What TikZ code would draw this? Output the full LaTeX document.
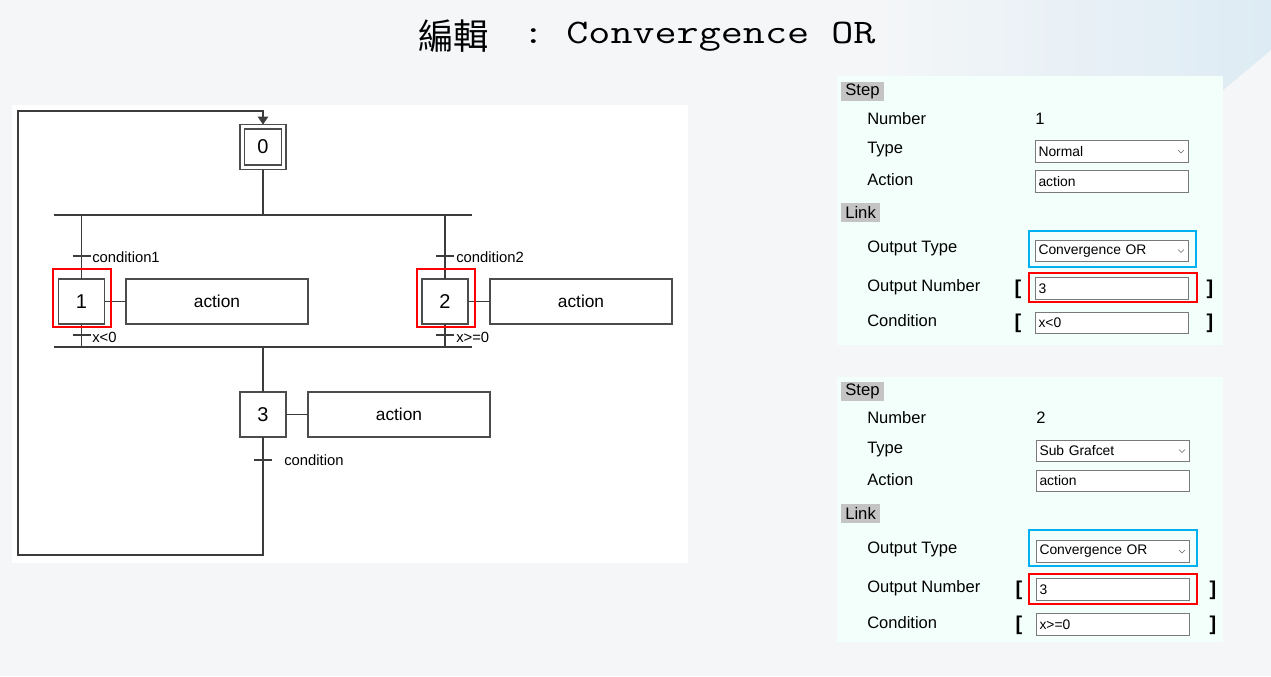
\documentclass[tikz,border=0pt]{standalone}
\usepackage{fontspec}
\setmainfont{Liberation Sans}
\newfontfamily\cjk{Noto Sans CJK TC}
\usepackage{xcolor}
\usetikzlibrary{arrows.meta}
\definecolor{pagebg}{HTML}{F4F6F8}
\definecolor{topblue}{HTML}{DDEBF4}
\definecolor{panelbg}{HTML}{F3FFFA}
\definecolor{hdrgray}{HTML}{C4C4C4}
\definecolor{linegray}{HTML}{3C3C3C}
\definecolor{fieldgray}{HTML}{7A7A7A}
\definecolor{selblue}{HTML}{00B0F0}
\tikzset{
    % Grafcet styles
    stepbox/.style={draw=black!70, line width=1.1pt, fill=white, minimum width=34.5pt, minimum height=33.75pt, inner sep=0pt, outer sep=0pt, font=\fontsize{15}{18}\selectfont},
    actbox/.style={draw=black!70, line width=0.9pt, fill=white, minimum width=136.5pt, minimum height=33.75pt, inner sep=0pt, outer sep=0pt, font=\fontsize{13}{16}\selectfont},
    link/.style={draw=linegray, line width=0.8pt},
    tick/.style={draw=linegray, line width=0.8pt},
    cond/.style={anchor=west, inner sep=0pt, font=\fontsize{11.1}{13}\selectfont},
    hilite/.style={draw=red, line width=2.2pt},
    % Form styles
    header/.style={anchor=west, fill=hdrgray, minimum height=14.25pt, inner xsep=3pt, inner ysep=0pt, font=\fontsize{12.5}{15}\selectfont},
    lbl/.style={anchor=west, inner sep=0pt, font=\fontsize{12.4}{15}\selectfont},
    field/.style={anchor=west, draw=fieldgray, line width=0.75pt, fill=white, minimum height=16pt, text width=110.25pt, align=left, inner xsep=2.25pt, inner ysep=0pt, font=\fontsize{10.4}{12}\selectfont},
    brk/.style={inner sep=0pt, font=\fontsize{15}{18}\selectfont\bfseries},
    chev/.style={draw=black!60, line width=0.5pt},
    selbox/.style={draw=selblue, line width=2.2pt}
}

\begin{document}
\begin{tikzpicture}[x=0.75pt, y=-0.75pt]
    % Page background
    \fill[pagebg] (0,0) rectangle (1271,676);
    \useasboundingbox (0,0) rectangle (1271,676);
    \shade[left color=pagebg, right color=topblue] (880,0) -- (1271,0) -- (1271,50) -- (1223,90) -- (880,90) -- cycle;

    % Title
    \node[anchor=base west, inner sep=0pt] (title) at (418,43) {\raisebox{-4.5pt}{\cjk\fontsize{26.5}{30}\selectfont 編輯}\hspace{25pt}\scalebox{1.246}[1]{\ttfamily\fontsize{25.8}{30}\selectfont :\ Convergence\ OR}};

    % Grafcet panel
    \fill[white] (12,105) rectangle (688,563);

    % Initial step
    \node[stepbox] (s0) at (263,147) {};
    \node[draw=black!70, line width=1.1pt, minimum width=27.75pt, minimum height=27pt, inner sep=0pt, font=\fontsize{15}{18}\selectfont] (s0in) at (263,147) {0};

    % Divergence and convergence bars
    \coordinate (divl) at (54,215);
    \coordinate (divr) at (472,215);
    \coordinate (convl) at (54,347);
    \coordinate (convr) at (472,347);
    \draw[link] (divl) -- (divr);
    \draw[link] (convl) -- (convr);
    \draw[link] (s0) -- (s0 |- divl);

    % Branch 1
    \node[stepbox] (s1) at (81.5,301.5) {1};
    \node[actbox] (a1) at (217,301.5) {action};
    \draw[link] (s1) -- (a1);
    \draw[link] (s1) -- (s1 |- divl);
    \draw[link] (s1) -- (s1 |- convl);
    \coordinate (t1) at (81.5,256);
    \draw[tick] (t1) ++(-9,0) -- ++(18,0);
    \node[cond] (c1) at (92,257) {condition1};
    \coordinate (t1b) at (81.5,335);
    \draw[tick] (t1b) ++(-9,0) -- ++(18,0);
    \node[cond] (c1b) at (92,337) {x<0};
    \draw[hilite] (53,269) rectangle (111,327);

    % Branch 2
    \node[stepbox] (s2) at (445,301.5) {2};
    \node[actbox] (a2) at (581,301.5) {action};
    \draw[link] (s2) -- (a2);
    \draw[link] (s2) -- (s2 |- divl);
    \draw[link] (s2) -- (s2 |- convl);
    \coordinate (t2) at (445,256);
    \draw[tick] (t2) ++(-9,0) -- ++(18,0);
    \node[cond] (c2) at (456,257) {condition2};
    \coordinate (t2b) at (445,335);
    \draw[tick] (t2b) ++(-9,0) -- ++(18,0);
    \node[cond] (c2b) at (456,337) {x>=0};
    \draw[hilite] (417,269) rectangle (475,327);

    % Step 3 and loop back
    \node[stepbox] (s3) at (263,414.5) {3};
    \node[actbox] (a3) at (399,414.5) {action};
    \draw[link] (s3) -- (a3);
    \draw[link] (s3) -- (s3 |- convl);
    \coordinate (t3) at (263,460);
    \draw[tick] (t3) ++(-9,0) -- ++(18,0);
    \node[cond] (c3) at (284,460) {condition};
    \coordinate (loopbl) at (18,555);
    \coordinate (looptl) at (18,111);
    \draw[link, -{Triangle[width=8pt,length=6pt]}] (s3) -- (s3 |- loopbl) -- (loopbl) -- (looptl) -| (s0.north);

    % Form for step 1
    \fill[panelbg] (837,76) rectangle (1223,345);
    \node[header] (stepA) at (841,91.5) {Step};
    \node[lbl] (numA) at (867,119) {Number};
    \node[lbl] (numvalA) at (1035,119) {1};
    \node[lbl] (typeA) at (867,150) {Type};
    \node[field] (typefA) at (1035,151.5) {Normal};
    \draw[chev] (typefA.east) ++(-11,-1.5) -- ++(3,3) -- ++(3,-3);
    \node[lbl] (actA) at (867,180) {Action};
    \node[field] (actfA) at (1035,181.5) {action};
    \node[header] (linkA) at (841,212.5) {Link};
    \node[lbl] (otA) at (867,248) {Output Type};
    \node[field] (otfA) at (1035,251) {Convergence OR};
    \draw[chev] (otfA.east) ++(-11,-1.5) -- ++(3,3) -- ++(3,-3);
    \draw[selbox] (1029,231) rectangle (1196,267);
    \node[lbl] (onA) at (867,287) {Output Number};
    \node[brk] (onlA) at (1018,289) {[};
    \node[field] (onfA) at (1035,288.5) {3};
    \node[brk] (onrA) at (1210,289) {]};
    \draw[hilite] (1029,273) rectangle (1197,302);
    \node[lbl] (condA) at (867,321) {Condition};
    \node[brk] (cdlA) at (1018,323) {[};
    \node[field] (cdfA) at (1035,323) {x<0};
    \node[brk] (cdrA) at (1210,323) {]};

    % Form for step 2
    \fill[panelbg] (837,377) rectangle (1223,642);
    \node[header] (stepB) at (841,391) {Step};
    \node[lbl] (numB) at (867,418) {Number};
    \node[lbl] (numvalB) at (1036,418) {2};
    \node[lbl] (typeB) at (867,450) {Type};
    \node[field] (typefB) at (1036,451) {Sub Grafcet};
    \draw[chev] (typefB.east) ++(-11,-1.5) -- ++(3,3) -- ++(3,-3);
    \node[lbl] (actB) at (867,480) {Action};
    \node[field] (actfB) at (1036,481) {action};
    \node[header] (linkB) at (841,513) {Link};
    \node[lbl] (otB) at (867,549) {Output Type};
    \node[field] (otfB) at (1036,551.5) {Convergence OR};
    \draw[chev] (otfB.east) ++(-11,-1.5) -- ++(3,3) -- ++(3,-3);
    \draw[selbox] (1029,530) rectangle (1197,566);
    \node[lbl] (onB) at (867,588) {Output Number};
    \node[brk] (onlB) at (1019,590) {[};
    \node[field] (onfB) at (1036,589.5) {3};
    \node[brk] (onrB) at (1213,590) {]};
    \draw[hilite] (1029,574) rectangle (1197,604);
    \node[lbl] (condB) at (867,623) {Condition};
    \node[brk] (cdlB) at (1019,625) {[};
    \node[field] (cdfB) at (1036,624.5) {x>=0};
    \node[brk] (cdrB) at (1213,625) {]};
\end{tikzpicture}
\end{document}
